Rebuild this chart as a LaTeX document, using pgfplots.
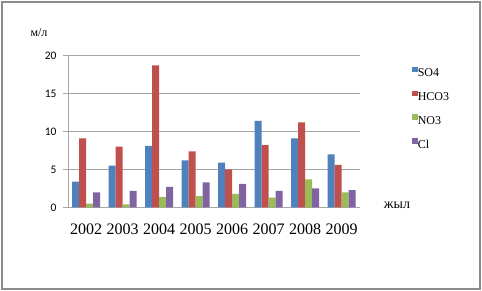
\documentclass[border=0pt]{standalone}
\usepackage{pgfplots}
\pgfplotsset{compat=1.18}
\usepackage{fontspec}
\setmainfont{Liberation Serif}
\newfontfamily\carlito{Carlito}
\definecolor{cso}{HTML}{4F81BD}
\definecolor{chco}{HTML}{C0504D}
\definecolor{cno}{HTML}{9BBB59}
\definecolor{ccl}{HTML}{8064A2}
\definecolor{frame}{HTML}{8C8C8C}
\definecolor{gridc}{HTML}{A6A6A6}
\begin{document}
\begin{tikzpicture}[x=1pt,y=1pt]
\fill[white] (0,0) rectangle (482,291);
\begin{axis}[
  at={(68pt,83.5pt)}, anchor=south west,
  scale only axis, width=292pt, height=152pt,
  ymin=0, ymax=20, xmin=-0.5, xmax=7.5,
  ybar=0pt, bar width=7pt,
  axis x line*=bottom, axis y line*=left,
  axis line style={gridc,-},
  ytick={0,5,...,20},
  ymajorgrids, grid style={gridc, line width=0.8pt},
  xtick={0,...,7},
  xticklabels={2002,2003,2004,2005,2006,2007,2008,2009},
  x tick style={draw=none},
  extra x ticks={-0.5,0.5,...,7.5},
  extra x tick labels={},
  extra x tick style={major tick length=4pt, tick align=outside, tick style={gridc, line width=0.8pt}, grid=none},
  y tick style={gridc, line width=0.8pt},
  tick align=outside, major tick length=5pt,
  /pgf/number format/assume math mode=true,
  yticklabel style={font=\carlito\fontsize{11.5}{13}\selectfont, xshift=-3pt},
  xticklabel style={font=\fontsize{16}{18}\selectfont, yshift=-8pt},
  legend style={draw=none, fill=none, at={(1.168,0.94)}, anchor=north west,
    font=\fontsize{12}{14}\selectfont, row sep=11pt,
    nodes={inner sep=0pt, text height=9pt, text depth=3pt},
    /tikz/every even column/.append style={column sep=1.5pt}},
  legend cell align=left,
  legend image code/.code={\fill[#1,draw=none] (0pt,1.3pt) rectangle (5.5pt,6.8pt);},
]
\addplot[fill=cso, draw=none] coordinates {(0,3.4) (1,5.5) (2,8.1) (3,6.2) (4,5.9) (5,11.4) (6,9.1) (7,7.0)};
\addplot[fill=chco, draw=none] coordinates {(0,9.1) (1,8.0) (2,18.7) (3,7.4) (4,5.0) (5,8.2) (6,11.2) (7,5.6)};
\addplot[fill=cno, draw=none] coordinates {(0,0.5) (1,0.4) (2,1.4) (3,1.5) (4,1.8) (5,1.3) (6,3.7) (7,2.0)};
\addplot[fill=ccl, draw=none] coordinates {(0,2.0) (1,2.2) (2,2.7) (3,3.3) (4,3.1) (5,2.2) (6,2.5) (7,2.3)};
\legend{SO4, HCO3, NO3, Cl}
\end{axis}
\node[font=\fontsize{12}{14}\selectfont] at (39,258.5) {м/л};
\node[font=\fontsize{14}{16}\selectfont] at (397,86) {жыл};
\draw[frame, line width=1.3pt] (2,2) rectangle (480,289);
\pgfresetboundingbox
\path (0,0) rectangle (482,291);
\end{tikzpicture}
\end{document}
